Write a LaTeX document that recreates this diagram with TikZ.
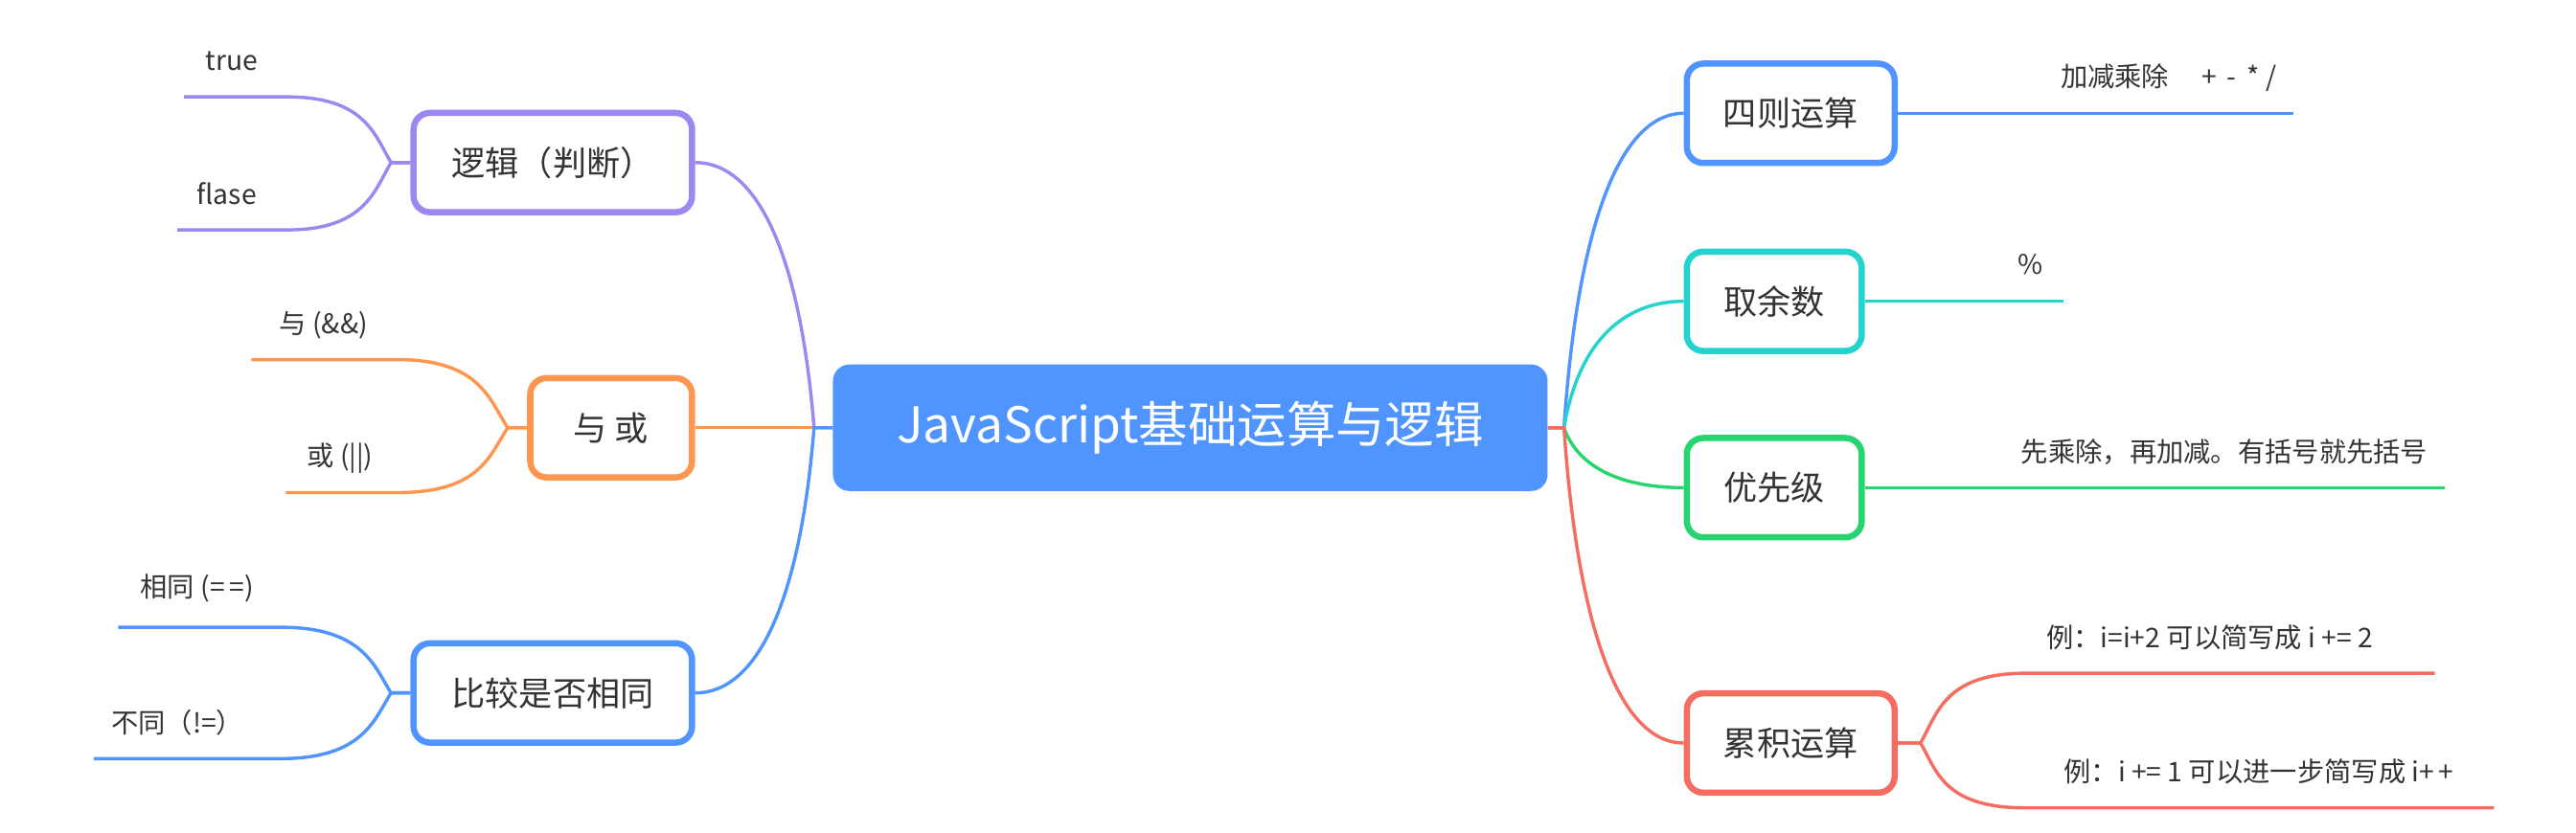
\documentclass[tikz,border=0pt]{standalone}
\usepackage{fontspec}
\setmainfont{Noto Sans CJK SC}
\usetikzlibrary{positioning}
\definecolor{jsblue}{HTML}{4F94FF}
\definecolor{jspurple}{HTML}{9D87F0}
\definecolor{jsorange}{HTML}{FF9650}
\definecolor{jscyan}{HTML}{22D3CE}
\definecolor{jsgreen}{HTML}{25D56F}
\definecolor{jsred}{HTML}{F56C60}
\definecolor{jstext}{HTML}{333333}
\tikzset{
root/.style={rounded corners=10pt, fill=jsblue, text=white, font=\fontsize{30}{36}\selectfont, minimum width=435pt, minimum height=77pt, inner sep=0pt}, % the centre topic
topic/.style={draw=#1, line width=3.8pt, rounded corners=10pt, fill=white, text=jstext, font=\fontsize{20.5}{24}\selectfont, minimum height=60.5pt, inner sep=0pt}, % boxes round the centre
leaf/.style={text=jstext, font=\fontsize{16.5}{20}\selectfont, inner sep=0pt}, % texts over the leaf lines
branch/.style={draw=#1, line width=2pt}, % connectors
}

\begin{document}
\begin{tikzpicture}[x=1pt, y=-1pt]
  \useasboundingbox (0,0) rectangle (1568,507);

  % Nodes
  \node[root] (js) at (724.5,260.5) {JavaScript基础运算与逻辑};
  \node[topic=jspurple, minimum width=169.5pt] (logic) at (336.5,99) {逻辑（判断）};
  \node[topic=jsorange, minimum width=98.5pt] (andor) at (372,260.5) {与 或};
  \node[topic=jsblue, minimum width=169.5pt] (compare) at (336.5,422) {比较是否相同};
  \node[topic=jsblue, minimum width=126.5pt] (arith) at (1090,69) {四则运算};
  \node[topic=jscyan, minimum width=106.5pt] (mod) at (1080,183.5) {取余数};
  \node[topic=jsgreen, minimum width=106.5pt] (prio) at (1080,297) {优先级};
  \node[topic=jsred, minimum width=126.5pt] (accum) at (1090,452.5) {累积运算};

  % Hubs and leaf ends
  \coordinate (hubL) at (495.5,260.5);
  \coordinate (hubR) at (952,260.5);
  \coordinate (logicHub) at (238,99);
  \coordinate (andorHub) at (309,260.5);
  \coordinate (compareHub) at (238,422);
  \coordinate (accumHub) at (1169,452.5);
  \coordinate (trueA) at (175,59);   \coordinate (trueB) at (112,59);
  \coordinate (flaseA) at (175,140); \coordinate (flaseB) at (108,140);
  \coordinate (andA) at (242,219);   \coordinate (andB) at (153,219);
  \coordinate (orA) at (242,300);    \coordinate (orB) at (174,300);
  \coordinate (sameA) at (171,382);  \coordinate (sameB) at (72,382);
  \coordinate (diffA) at (171,462);  \coordinate (diffB) at (57,462);
  \coordinate (arithEnd) at (1396,69);
  \coordinate (modEnd) at (1256,183.5);
  \coordinate (prioEnd) at (1488,297);
  \coordinate (ex1A) at (1233,410);  \coordinate (ex1B) at (1482,410);
  \coordinate (ex2A) at (1233,492);  \coordinate (ex2B) at (1518,492);

  % Branches
  \draw[branch=jspurple] (js.west) -- (hubL) .. controls +(-8,-100) and +(40,0) .. (logic.east);
  \draw[branch=jsorange] (js.west) -- (hubL) -- (andor.east);
  \draw[branch=jsblue] (js.west) -- (hubL) .. controls +(-8,100) and +(40,0) .. (compare.east);
  \draw[branch=jsblue] (js.east) -- (hubR) .. controls +(8,-119) and +(-40,0) .. (arith.west);
  \draw[branch=jscyan] (js.east) -- (hubR) .. controls +(8,-48) and +(-40,0) .. (mod.west);
  \draw[branch=jsgreen] (js.east) -- (hubR) .. controls +(8,23) and +(-40,0) .. (prio.west);
  \draw[branch=jsred] (js.east) -- (hubR) .. controls +(8,119) and +(-40,0) .. (accum.west);

  % Leaves
  \draw[branch=jspurple] (logic.west) -- (logicHub) .. controls +(-10,-17) and +(47,0) .. (trueA) -- (trueB);
  \draw[branch=jspurple] (logic.west) -- (logicHub) .. controls +(-10,17) and +(47,0) .. (flaseA) -- (flaseB);
  \draw[branch=jsorange] (andor.west) -- (andorHub) .. controls +(-11,-17) and +(50,0) .. (andA) -- (andB);
  \draw[branch=jsorange] (andor.west) -- (andorHub) .. controls +(-11,17) and +(50,0) .. (orA) -- (orB);
  \draw[branch=jsblue] (compare.west) -- (compareHub) .. controls +(-10,-16) and +(50,0) .. (sameA) -- (sameB);
  \draw[branch=jsblue] (compare.west) -- (compareHub) .. controls +(-10,16) and +(50,0) .. (diffA) -- (diffB);
  \draw[branch=jsblue] (arith.east) -- (arithEnd);
  \draw[branch=jscyan] (mod.east) -- (modEnd);
  \draw[branch=jsgreen] (prio.east) -- (prioEnd);
  \draw[branch=jsred] (accum.east) -- (accumHub) .. controls +(10,-17) and +(-50,0) .. (ex1A) -- (ex1B);
  \draw[branch=jsred] (accum.east) -- (accumHub) .. controls +(10,17) and +(-50,0) .. (ex2A) -- (ex2B);

  % Leaf texts
  \node[leaf] (trueText) at (141,37) {true};
  \node[leaf] (flaseText) at (138,118) {flase};
  \node[leaf] (andText) at (197,198) {与 (\&\&)};
  \node[leaf] (orText) at (207,279) {或 (||)};
  \node[leaf] (sameText) at (120,358) {相同 (=\,=)};
  \node[leaf] (diffText) at (108,440) {不同（!=）};
  \node[leaf] (arithText) at (1320,47) {加减乘除\hspace{1.2em}+ \,-\, * /};
  \node[leaf] (modText) at (1236,161) {\%};
  \node[leaf] (prioText) at (1354,275) {先乘除，再加减。有括号就先括号};
  \node[leaf] (ex1Text) at (1345,388) {例：i=i+2 可以简写成 i += 2};
  \node[leaf] (ex2Text) at (1375,470) {例：i += 1 可以进一步简写成 i+\,+};
\end{tikzpicture}
\end{document}
